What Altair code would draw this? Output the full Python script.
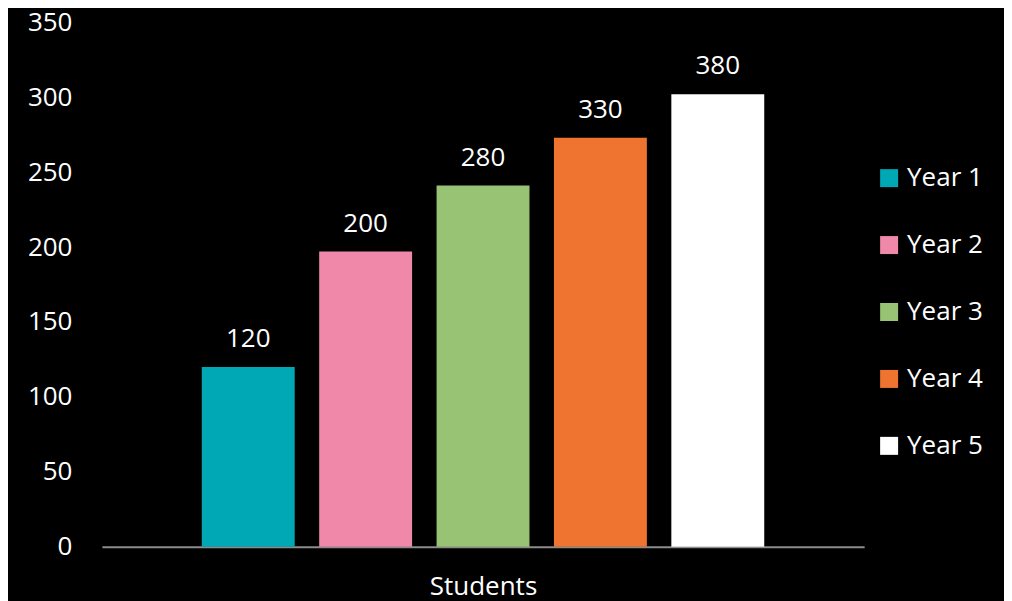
import altair as alt
import pandas as pd

years = ["Year 1", "Year 2", "Year 3", "Year 4", "Year 5"]
bar_values = [120, 197, 241, 273, 302]
label_texts = ["120", "200", "280", "330", "380"]
colors = ["#00A8B5", "#F088AA", "#98C274", "#EE7430", "#FFFFFF"]

df = pd.DataFrame({"Year": years, "Value": bar_values, "Label": label_texts})

FONT = "Open Sans"
FS = 26

x = alt.X("Year:N", sort=years,
          scale=alt.Scale(paddingInner=0.2085, paddingOuter=0.851),
          axis=alt.Axis(labels=False, ticks=False, title="Students",
                        domainColor="#8C8C8C", domainWidth=2,
                        titleFont=FONT, titleFontSize=FS, titleFontWeight="normal",
                        titleColor="#FFFFFF", titlePadding=27))
y = alt.Y("Value:Q", scale=alt.Scale(domain=[0, 350]),
          axis=alt.Axis(values=[0, 50, 100, 150, 200, 250, 300, 350], grid=False,
                        domain=False, ticks=False, title=None,
                        labelFont=FONT, labelFontSize=FS, labelColor="#FFFFFF",
                        labelPadding=30))

bars = alt.Chart(df).mark_bar().encode(
    x=x, y=y,
    color=alt.Color("Year:N", sort=years,
                    scale=alt.Scale(domain=years, range=colors),
                    legend=alt.Legend(title=None, orient="none", legendX=775, legendY=143,
                                      symbolType="square", symbolSize=324,
                                      symbolStrokeWidth=0, symbolOpacity=1,
                                      labelFont=FONT, labelFontSize=FS,
                                      labelColor="#FFFFFF", rowPadding=41,
                                      labelOffset=5)),
)

labels = alt.Chart(df).mark_text(font=FONT, fontSize=FS, color="#FFFFFF",
                                 baseline="alphabetic", dy=-20).encode(
    x=alt.X("Year:N", sort=years), y="Value:Q", text="Label:N")

chart = (bars + labels).properties(
    width=763, height=525, autosize="none",
    padding={"left": 94, "top": 14, "right": 140, "bottom": 60},
    background="#000000",
).configure_view(stroke=None)

chart.save("out.html", embed_options={"renderer": "svg", "actions": False})
